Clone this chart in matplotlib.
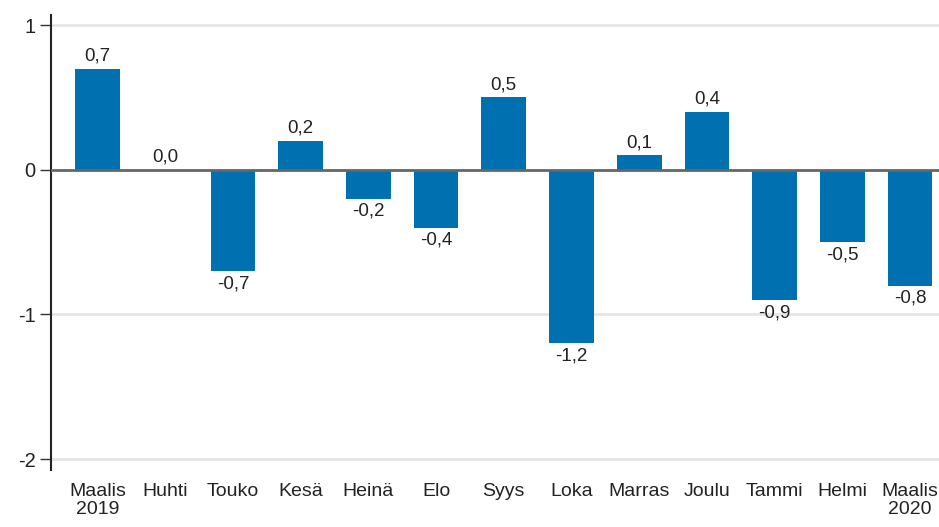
import matplotlib
matplotlib.use("Agg")
import matplotlib.pyplot as plt

plt.rcParams['font.family'] = ['Liberation Sans', 'DejaVu Sans']

categories = ["Maalis\n2019", "Huhti", "Touko", "Kesä", "Heinä", "Elo", "Syys",
              "Loka", "Marras", "Joulu", "Tammi", "Helmi", "Maalis\n2020"]
values = [0.7, 0.0, -0.7, 0.2, -0.2, -0.4, 0.5, -1.2, 0.1, 0.4, -0.9, -0.5, -0.8]
yticks = [1, 0, -1, -2]

W, H = 939, 527
fig = plt.figure(figsize=(W / 100, H / 100), dpi=100)
ax = fig.add_axes([51 / W, (527 - 470) / H, (939 - 51) / W, (470 - 15) / H])

x = list(range(len(categories)))
ax.bar(x, values, width=0.66, color="#0070B0", zorder=2)

for xi, v in zip(x, values):
    label = f"{v:.1f}".replace(".", ",")
    if v >= 0:
        ax.annotate(label, (xi, v), xytext=(0, 3), textcoords="offset points",
                    ha="center", va="bottom", fontsize=13.5, color="#222222")
    else:
        ax.annotate(label, (xi, v), xytext=(0, -3), textcoords="offset points",
                    ha="center", va="top", fontsize=13.5, color="#222222")

ax.set_xlim(-0.69, 12.43)
ax.set_ylim(-2.075, 1.07)
ax.set_yticks(yticks)
ax.set_yticklabels([str(t) for t in yticks], fontsize=14.5, color="#222222")
ax.set_xticks(x)
ax.set_xticklabels(categories, fontsize=14, color="#222222", linespacing=1.15)
ax.tick_params(axis="x", length=0, pad=9)
ax.tick_params(axis="y", length=8, width=1, color="#333333", pad=3)

for t in yticks:
    if t != 0:
        ax.axhline(t, color="#E6E6E6", linewidth=2, zorder=0)
ax.axhline(0, color="#666666", linewidth=2, zorder=3)

for s in ["top", "right", "bottom"]:
    ax.spines[s].set_visible(False)
ax.spines["left"].set_color("#222222")
ax.spines["left"].set_linewidth(1.5)

fig.savefig("out.png", dpi=100)
